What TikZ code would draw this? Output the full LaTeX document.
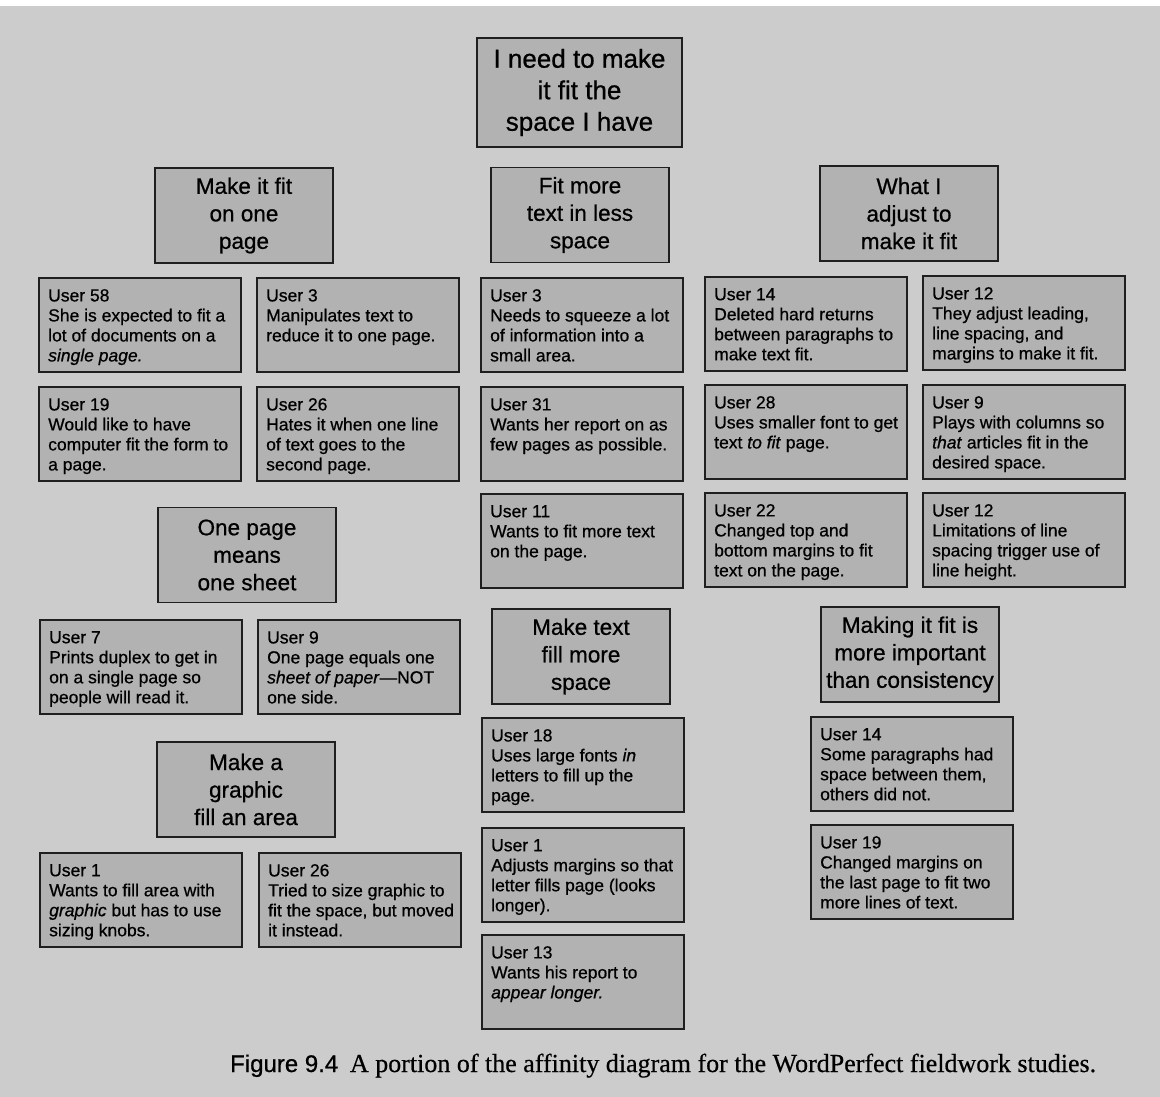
\documentclass[tikz,border=0pt]{standalone}
\usepackage{fontspec}
\setmainfont{Liberation Serif}[Ligatures=TeX, BoldFont={Liberation Serif}, BoldFeatures={FakeBold=0.5}]
\newfontfamily\hsans{Liberation Sans}[Ligatures=TeX, BoldFont={Liberation Sans}, BoldFeatures={FakeBold=0.7}, BoldItalicFont={Liberation Sans Italic}, BoldItalicFeatures={FakeBold=0.7}]
\definecolor{bgpaper}{gray}{0.80}
\definecolor{boxgray}{gray}{0.70}
\definecolor{inkline}{gray}{0.12}
\newcommand\cardfont{\hsans\bfseries\fontsize{17.5}{20}\selectfont}
\newcommand\headfont{\hsans\bfseries\fontsize{22.5}{27.5}\selectfont}
\newcommand\topfont{\hsans\bfseries\fontsize{26}{31.5}\selectfont}
\tikzset{
  cardbox/.style={draw=inkline, fill=boxgray, line width=1.6pt, anchor=north west,
    minimum width=202pt, minimum height=94pt, inner sep=0pt},
  cardtext/.style={anchor=north west, align=left, inner sep=0pt, font=\cardfont, text=black},
  headbox/.style={draw=inkline, fill=boxgray, line width=1.6pt, align=center,
    minimum width=178pt, minimum height=95pt, inner sep=0pt, font=\headfont, text=black},
  topbox/.style={headbox, minimum width=205pt, minimum height=109pt, font=\topfont},
  captext/.style={anchor=base west, inner sep=0pt, font=\bfseries\fontsize{26}{30}\selectfont}
}
\newcommand\card[4]{%
  \node[cardbox] (#1) at (#2,#3) {};
  \node[cardtext] (#1t) at ([shift={(10pt,-12pt)}]#1.north west) {#4};
}
\begin{document}
\begin{tikzpicture}[x=1pt,y=-1pt]
\useasboundingbox (0,0) rectangle (1160,1097);
\fill[bgpaper] (0,0) rectangle (1160,1097);
\fill[white] (0,0) rectangle (1160,6);

% headers
\node[topbox] (top) at (579.5,92.5) {I need to make\\it fit the\\space I have};
\node[headbox] (h1) at (244,215.5) {Make it fit\\on one\\page};
\node[headbox] (h2) at (580,215) {Fit more\\text in less\\space};
\node[headbox] (h3) at (909,213.5) {What I\\adjust to\\make it fit};
\node[headbox] (h4) at (247,555) {One page\\means\\one sheet};
\node[headbox] (h5) at (246,789.5) {Make a\\graphic\\fill an area};
\node[headbox] (h6) at (581,656.5) {Make text\\fill more\\space};
\node[headbox] (h7) at (910,654.5) {Making it fit is\\more important\\than consistency};

% left column cards
\card{c1}{38}{277}{User 58\\She is expected to fit a\\lot of documents on a\\\textit{single page.}}
\card{c2}{256}{277}{User 3\\Manipulates text to\\reduce it to one page.}
\card{c3}{38}{386}{User 19\\Would like to have\\computer fit the form to\\a page.}
\card{c4}{256}{386}{User 26\\Hates it when one line\\of text goes to the\\second page.}
\card{c5}{39}{619}{User 7\\Prints duplex to get in\\on a single page so\\people will read it.}
\card{c6}{257}{619}{User 9\\One page equals one\\\textit{sheet of paper}—NOT\\one side.}
\card{c7}{39}{852}{User 1\\Wants to fill area with\\\textit{graphic} but has to use\\sizing knobs.}
\card{c8}{258}{852}{User 26\\Tried to size graphic to\\fit the space, but moved\\it instead.}

% middle column cards
\card{m1}{480}{277}{User 3\\Needs to squeeze a lot\\of information into a\\small area.}
\card{m2}{480}{386}{User 31\\Wants her report on as\\few pages as possible.}
\card{m3}{480}{493}{User 11\\Wants to fit more text\\on the page.}
\card{m4}{481}{717}{User 18\\Uses large fonts \textit{in}\\letters to fill up the\\page.}
\card{m5}{481}{827}{User 1\\Adjusts margins so that\\letter fills page (looks\\longer).}
\card{m6}{481}{934}{User 13\\Wants his report to\\\textit{appear longer.}}

% right column cards
\card{r1}{704}{276}{User 14\\Deleted hard returns\\between paragraphs to\\make text fit.}
\card{r2}{922}{275}{User 12\\They adjust leading,\\line spacing, and\\margins to make it fit.}
\card{r3}{704}{384}{User 28\\Uses smaller font to get\\text \textit{to fit} page.}
\card{r4}{922}{384}{User 9\\Plays with columns so\\\textit{that} articles fit in the\\desired space.}
\card{r5}{704}{492}{User 22\\Changed top and\\bottom margins to fit\\text on the page.}
\card{r6}{922}{492}{User 12\\Limitations of line\\spacing trigger use of\\line height.}
\card{r7}{810}{716}{User 14\\Some paragraphs had\\space between them,\\others did not.}
\card{r8}{810}{824}{User 19\\Changed margins on\\the last page to fit two\\more lines of text.}

% caption
\node[captext] (cap) at (230,1072) {{\hsans\bfseries\fontsize{24}{28}\selectfont Figure 9.4}\hspace{0.45em}A portion of the affinity diagram for the WordPerfect fieldwork studies.};
\end{tikzpicture}
\end{document}
